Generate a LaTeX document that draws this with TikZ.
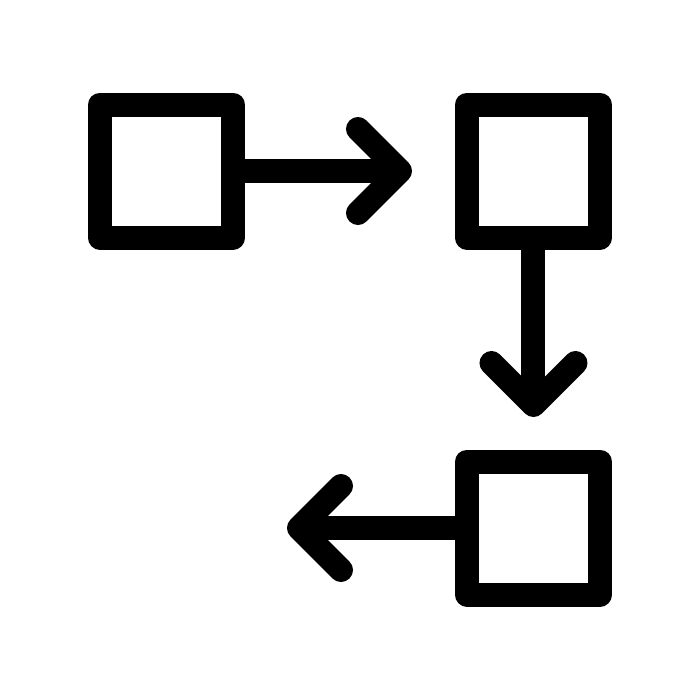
\documentclass[tikz,border=0pt]{standalone}
\usepackage{tikz}
\usetikzlibrary{positioning,calc}

\begin{document}
\begin{tikzpicture}[line width=0.24cm, line cap=round, line join=round,
    stepbox/.style={draw, rectangle, inner sep=0, minimum size=1.33cm}]
    \useasboundingbox (0,0) rectangle (7,7);

    % Boxes
    \node[stepbox] (boxA) at (1.665,5.29) {};
    \node[stepbox] (boxB) at (5.335,5.29) {};
    \node[stepbox] (boxC) at (5.335,1.72) {};

    % Arrow tips
    \coordinate (tipA) at (4.00,5.29);
    \coordinate (tipB) at (5.335,2.95);
    \coordinate (tipC) at (2.99,1.72);

    % A to B
    \draw[line cap=butt] (boxA.east) -- (tipA);
    \draw (tipA) ++(-0.42,0.42) -- (tipA) -- ++(-0.42,-0.42);

    % B down
    \draw[line cap=butt] (boxB.south) -- (tipB);
    \draw (tipB) ++(-0.42,0.42) -- (tipB) -- ++(0.42,0.42);

    % C to left
    \draw[line cap=butt] (boxC.west) -- (tipC);
    \draw (tipC) ++(0.42,0.42) -- (tipC) -- ++(0.42,-0.42);
\end{tikzpicture}
\end{document}
